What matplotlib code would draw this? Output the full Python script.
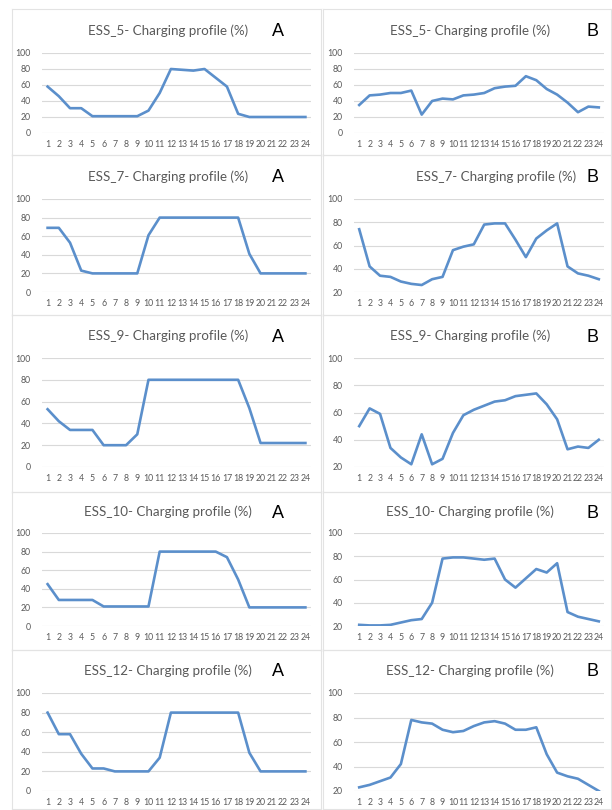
import matplotlib
matplotlib.use('Agg')
import matplotlib.pyplot as plt

plt.rcParams['font.family'] = ['Lato', 'DejaVu Sans']

W, H = 612, 810

hours = list(range(1, 25))

# values (%)
ess5_a = [58, 46, 31, 31, 21, 21, 21, 21, 21, 28, 50, 80, 79, 78, 80, 69, 58, 24, 20, 20, 20, 20, 20, 20]
ess5_b = [35, 47, 48, 50, 50, 53, 23, 40, 43, 42, 47, 48, 50, 56, 58, 59, 71, 66, 55, 48, 38, 26, 33, 32]
ess7_a = [69, 69, 53, 23, 20, 20, 20, 20, 20, 61, 80, 80, 80, 80, 80, 80, 80, 80, 41, 20, 20, 20, 20, 20]
ess7_b = [74, 42, 34, 33, 29, 27, 26, 31, 33, 56, 59, 61, 78, 79, 79, 65, 50, 66, 73, 79, 42, 36, 34, 31]
ess9_a = [53, 42, 34, 34, 34, 20, 20, 20, 30, 80, 80, 80, 80, 80, 80, 80, 80, 80, 54, 22, 22, 22, 22, 22]
ess9_b = [50, 63, 59, 34, 27, 22, 44, 22, 26, 45, 58, 62, 65, 68, 69, 72, 73, 74, 66, 55, 33, 35, 34, 40]
ess10_a = [45, 28, 28, 28, 28, 21, 21, 21, 21, 21, 80, 80, 80, 80, 80, 80, 74, 50, 20, 20, 20, 20, 20, 20]
ess10_b = [21, 20.5, 20.5, 21, 23, 25, 26, 40, 78, 79, 79, 78, 77, 78, 60, 53, 61, 69, 66, 74, 32, 28, 26, 24]
ess12_a = [80, 58, 58, 38, 23, 23, 20, 20, 20, 20, 34, 80, 80, 80, 80, 80, 80, 80, 39, 20, 20, 20, 20, 20]
ess12_b = [23, 25, 28, 31, 42, 78, 76, 75, 70, 68, 69, 73, 76, 77, 75, 70, 70, 72, 50, 35, 32, 30, 25, 20]

names = ['ESS_5', 'ESS_7', 'ESS_9', 'ESS_10', 'ESS_12']
series_a = [ess5_a, ess7_a, ess9_a, ess10_a, ess12_a]
series_b = [ess5_b, ess7_b, ess9_b, ess10_b, ess12_b]
ymin_b = [0, 20, 20, 20, 20]

# layout in pixels
box_rows = [(9, 155), (155, 315), (315, 492), (492, 650), (650, 809)]
plot_rows = [(53, 133), (199, 292), (358, 467), (533, 626), (693, 791)]
title_y = [31, 177, 336, 512, 671]

line_col = '#5b8fcb'
grid_col = '#d9d9d9'
text_col = '#595959'


def rect(x0, y0, x1, y1):
    return [x0 / W, 1 - y1 / H, (x1 - x0) / W, (y1 - y0) / H]


fig = plt.figure(figsize=(W / 100, H / 100), dpi=100)

for i in range(5):
    for side in range(2):
        bx0, bx1 = (12, 321) if side == 0 else (323, 611)
        by0, by1 = box_rows[i]
        frame = fig.add_axes(rect(bx0, by0, bx1, by1))
        frame.set_xticks([])
        frame.set_yticks([])
        frame.patch.set_alpha(0)
        for s in frame.spines.values():
            s.set_color('#e3e3e3')
            s.set_linewidth(0.8)

        px0, px1 = (42, 311) if side == 0 else (354, 604)
        py0, py1 = plot_rows[i]
        ax = fig.add_axes(rect(px0, py0, px1, py1))
        vals = series_a[i] if side == 0 else series_b[i]
        lo = 0 if side == 0 else ymin_b[i]
        ax.plot(hours, vals, color=line_col, lw=1.9, solid_joinstyle='round')
        ax.set_xlim(0.5, 24.5)
        ax.set_ylim(lo, 100)
        ax.set_yticks(range(lo, 101, 20))
        ax.set_xticks(hours)
        ax.grid(axis='y', color=grid_col, lw=0.8)
        ax.set_axisbelow(True)
        for s in ax.spines.values():
            s.set_visible(False)
        ax.tick_params(length=0, labelsize=6.3, colors=text_col, pad=5)
        ax.tick_params(axis='y', pad=8)

        cx = 168 if side == 0 else (496 if i == 1 else 470)
        fig.text(cx / W, 1 - title_y[i] / H, names[i] + '- Charging profile (%)',
                 ha='center', va='center', fontsize=9.6, color=text_col)
        lx = 278 if side == 0 else 593
        fig.text(lx / W, 1 - (title_y[i] + 1) / H, 'A' if side == 0 else 'B',
                 ha='center', va='center', fontsize=13,
                 family=['Liberation Sans', 'DejaVu Sans'], color='black')

fig.savefig('out.png', dpi=100)
